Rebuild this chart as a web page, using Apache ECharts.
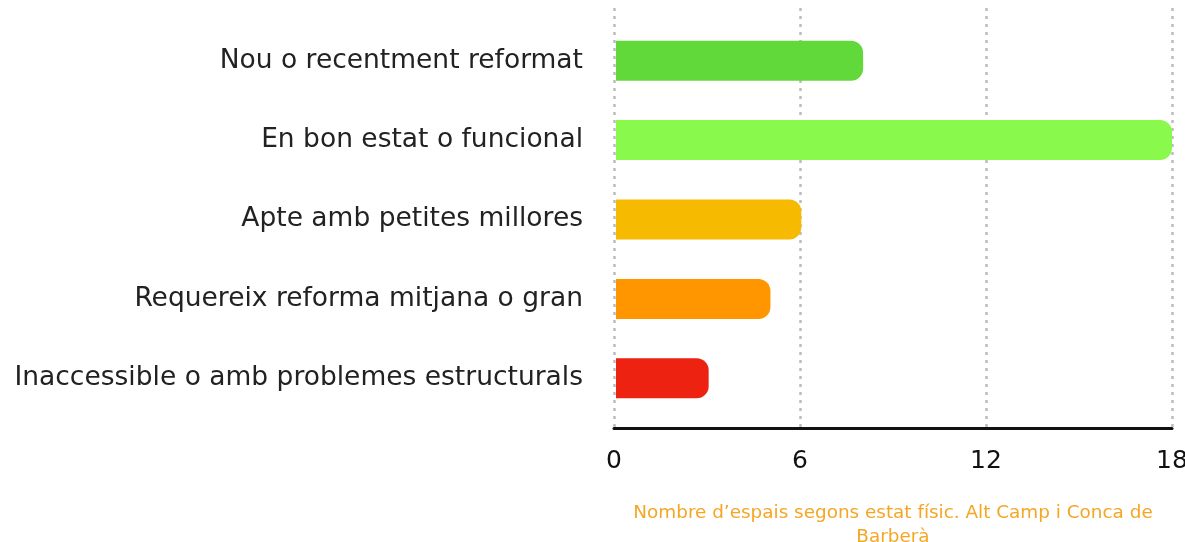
<!DOCTYPE html>
<html>
<head>
<meta charset="utf-8">
<script src="https://cdn.jsdelivr.net/npm/echarts@6/dist/echarts.min.js"></script>
<style>html,body{margin:0;padding:0;background:#fff}#c{width:1185px;height:542px}</style>
</head>
<body>
<div id="c"></div>
<script>
const categories = [
  "Nou o recentment reformat",
  "En bon estat o funcional",
  "Apte amb petites millores",
  "Requereix reforma mitjana o gran",
  "Inaccessible o amb problemes estructurals"
];
const values = [8, 18, 6, 5, 3];
const barColors = ["#62d93a", "#89f94c", "#f6ba00", "#ff9600", "#ee2211"];
const xTicks = [0, 6, 12, 18];
const caption = "Nombre d’espais segons estat físic. Alt Camp i Conca de\nBarberà";

const FONT = "DejaVu Sans";
const chart = echarts.init(document.getElementById('c'));
chart.setOption({
  animation: false,
  title: {
    text: caption,
    left: 888, top: 496, textAlign: 'center',
    textStyle: { color: '#f5a623', fontSize: 18.4, fontWeight: 'normal', fontFamily: FONT, lineHeight: 24, align: 'center' }
  },
  grid: [
    { left: 616, right: 13, top: 21, bottom: 124, outerBoundsMode: 'none', containLabel: false },
    { left: 614, right: 13, top: 8, bottom: 114, outerBoundsMode: 'none', containLabel: false }
  ],
  xAxis: [
    { gridIndex: 0, type: 'value', min: xTicks[0], max: xTicks[xTicks.length-1], interval: 6,
      axisLine: {show: false}, axisTick: {show: false}, axisLabel: {show: false}, splitLine: {show: false} },
    { gridIndex: 1, type: 'value', min: xTicks[0], max: xTicks[xTicks.length-1], interval: 6,
      axisLine: {show: true, lineStyle: {color: '#111', width: 3}}, axisTick: {show: false},
      axisLabel: {color: '#111', fontSize: 25, fontFamily: FONT, margin: 21},
      splitLine: {show: true, lineStyle: {color: '#bdbdbd', width: 2.5, type: [3, 5]}} }
  ],
  yAxis: [
    { gridIndex: 0, type: 'category', data: categories, inverse: true,
      axisLine: {show: false}, axisTick: {show: false},
      axisLabel: {color: '#222', fontSize: 26.5, fontFamily: FONT, margin: 33, padding: [3, 0, 0, 0]} },
    { gridIndex: 1, type: 'value', min: 0, max: 1, show: false }
  ],
  series: [{
    type: 'bar', xAxisIndex: 0, yAxisIndex: 0, barWidth: 40,
    data: values.map((v, i) => ({ value: v, itemStyle: { color: barColors[i] } })),
    itemStyle: { borderRadius: [0, 12, 12, 0] }
  }]
});
</script>
</body>
</html>
